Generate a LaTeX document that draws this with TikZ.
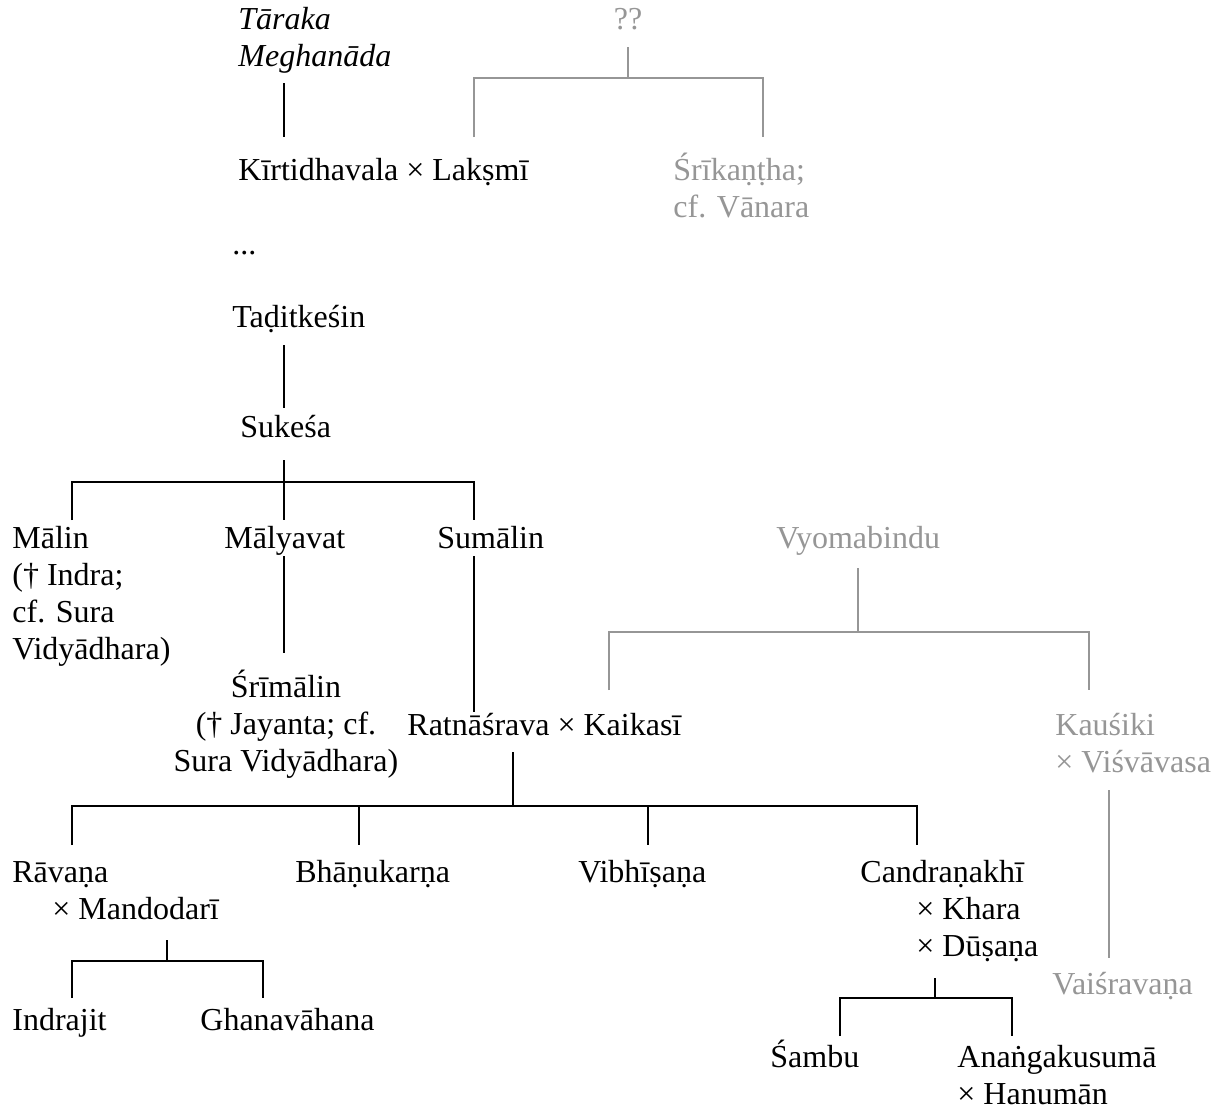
\documentclass[tikz,border=0pt]{standalone}
\usepackage{fontspec}
\setmainfont{Liberation Serif}
\definecolor{sidegrey}{RGB}{150,150,150}
\newcommand{\kinfont}{\fontsize{16}{18.5}\selectfont}
\tikzset{
  person/.style={anchor=base west,inner sep=0pt,align=left},
  outlier/.style={person,color=sidegrey},
  link/.style={line width=0.8pt},
  outlink/.style={line width=0.8pt,color=sidegrey},
}
\begin{document}
\begin{tikzpicture}[x=0.5pt,y=-0.5pt,font=\kinfont]
\useasboundingbox (0,0) rectangle (1229,1110);

% upper line (multi-line nodes sit on their last baseline)
\node[person,font=\kinfont\itshape] (tm) at (238,66) {Tāraka\\Meghanāda};
\node[outlier,anchor=base] (unk) at (628,29) {??};
\node[person] (kir) at (238,180) {Kīrtidhavala × Lakṣmī};
\node[outlier] (sri) at (673,217) {Śrīkaṇṭha;\\cf. Vānara};
\node[person] (dots) at (232,254) {...};
\node[person] (tad) at (232,327) {Taḍitkeśin};
\node[person] (suk) at (240,437) {Sukeśa};

% sons of Sukesa
\node[person] (mal) at (12,659) {Mālin\\(† Indra;\\cf. Sura\\Vidyādhara)};
\node[person] (mly) at (224,548) {Mālyavat};
\node[person] (sum) at (437,548) {Sumālin};
\node[outlier] (vyo) at (776,548) {Vyomabindu};
\node[person,anchor=base,align=center] (srm) at (286,771) {Śrīmālin\\(† Jayanta; cf.\\Sura Vidyādhara)};
\node[person] (rat) at (407,735) {Ratnāśrava × Kaikasī};
\node[outlier] (kau) at (1055,772) {Kauśiki\\× Viśvāvasa};

% children of Ratnasrava
\node[person] (rav) at (12,919) {Rāvaṇa\\\hspace*{20pt}× Mandodarī};
\node[person] (bha) at (295,882) {Bhāṇukarṇa};
\node[person] (vib) at (578,882) {Vibhīṣaṇa};
\node[person] (can) at (860,956) {Candraṇakhī\\\hspace*{28pt}× Khara\\\hspace*{28pt}× Dūṣaṇa};
\node[outlier] (vai) at (1052,994) {Vaiśravaṇa};

% grandchildren
\node[person] (ind) at (12,1030) {Indrajit};
\node[person] (gha) at (200,1030) {Ghanavāhana};
\node[person] (sam) at (770,1067) {Śambu};
\node[person] (ana) at (957,1104) {Anaṅgakusumā\\× Hanumān};

% line ends
\coordinate (tm-d) at (284,83);
\coordinate (kir-u) at (284,137);
\coordinate (unk-d) at (628,47);
\coordinate (unk-j) at (628,78);
\coordinate (lak-u) at (474,137);
\coordinate (sri-u) at (763,137);
\coordinate (tad-d) at (284,345);
\coordinate (suk-u) at (284,408);
\coordinate (suk-d) at (284,460);
\coordinate (suk-j) at (284,482);
\coordinate (mal-u) at (72,520);
\coordinate (mly-u) at (284,520);
\coordinate (sum-u) at (474,520);
\coordinate (mly-d) at (284,556);
\coordinate (srm-u) at (284,653);
\coordinate (sum-d) at (474,556);
\coordinate (rat-u) at (474,712);
\coordinate (vyo-d) at (858,568);
\coordinate (vyo-j) at (858,632);
\coordinate (kai-u) at (609,690);
\coordinate (kau-u) at (1089,690);
\coordinate (kau-d) at (1109,790);
\coordinate (vai-u) at (1109,958);
\coordinate (rat-d) at (513,752);
\coordinate (rat-j) at (513,806);
\coordinate (rav-u) at (72,845);
\coordinate (bha-u) at (359,845);
\coordinate (vib-u) at (648,845);
\coordinate (can-u) at (917,845);
\coordinate (rav-d) at (167,940);
\coordinate (rav-j) at (167,961);
\coordinate (ind-u) at (72,998);
\coordinate (gha-u) at (263,998);
\coordinate (can-d) at (935,978);
\coordinate (can-j) at (935,998);
\coordinate (sam-u) at (840,1036);
\coordinate (ana-u) at (1012,1036);

% black lines
\draw[link] (tm-d) -- (kir-u);
\draw[link] (tad-d) -- (suk-u);
\draw[link] (suk-d) -- (suk-j);
\draw[link] (mal-u) |- (suk-j) -| (sum-u);
\draw[link] (suk-j) -- (mly-u);
\draw[link] (mly-d) -- (srm-u);
\draw[link] (sum-d) -- (rat-u);
\draw[link] (rat-d) -- (rat-j);
\draw[link] (rav-u) |- (rat-j) -| (can-u);
\draw[link] (bha-u |- rat-j) -- (bha-u);
\draw[link] (vib-u |- rat-j) -- (vib-u);
\draw[link] (rav-d) -- (rav-j);
\draw[link] (ind-u) |- (rav-j) -| (gha-u);
\draw[link] (can-d) -- (can-j);
\draw[link] (sam-u) |- (can-j) -| (ana-u);

% grey lines
\draw[outlink] (unk-d) -- (unk-j);
\draw[outlink] (lak-u) |- (unk-j) -| (sri-u);
\draw[outlink] (vyo-d) -- (vyo-j);
\draw[outlink] (kai-u) |- (vyo-j) -| (kau-u);
\draw[outlink] (kau-d) -- (vai-u);
\end{tikzpicture}
\end{document}
